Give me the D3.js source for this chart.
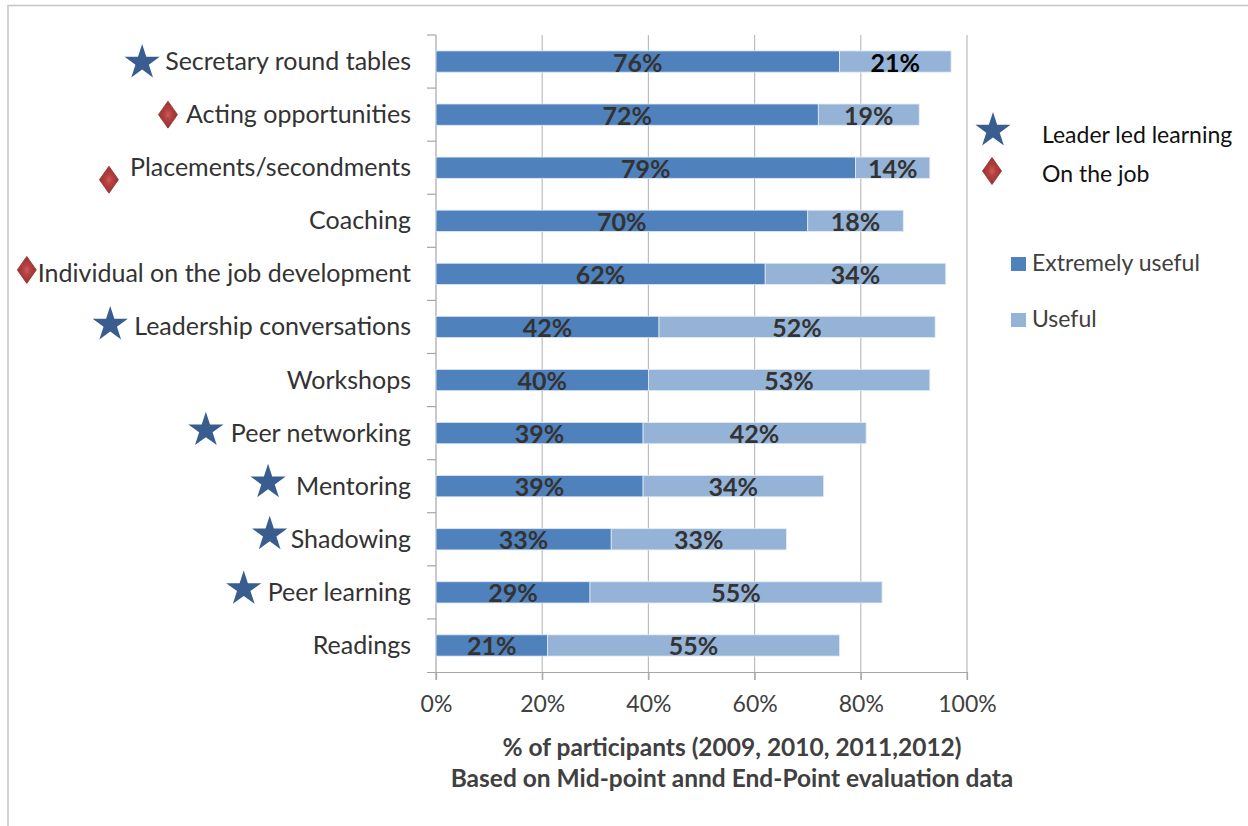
<!DOCTYPE html>
<html>
<head>
<meta charset="utf-8">
<script src="https://cdn.jsdelivr.net/npm/d3@7"></script>
<style>
  html, body { margin: 0; padding: 0; background: #fff; }
  svg { display: block; }
  text { font-family: Lato, "Open Sans", sans-serif; }
</style>
</head>
<body>
<svg id="chart" width="1248" height="826"></svg>
<script>
// ---- data ----
const categories = [
  "Secretary round tables",
  "Acting opportunities",
  "Placements/secondments",
  "Coaching",
  "Individual on the job development",
  "Leadership conversations",
  "Workshops",
  "Peer networking",
  "Mentoring",
  "Shadowing",
  "Peer learning",
  "Readings"
];
const extremelyUseful = [76, 72, 79, 70, 62, 42, 40, 39, 39, 33, 29, 21];
const useful          = [21, 19, 14, 18, 34, 52, 53, 42, 34, 33, 55, 55];
// learning type per category: star = leader led learning, diamond = on the job
const learningType = ["star", "diamond", "diamond", null, "diamond", "star", null, "star", "star", "star", "star", null];
const seriesNames = ["Extremely useful", "Useful"];
const typeNames = ["Leader led learning", "On the job"];
const xTicks = [0, 20, 40, 60, 80, 100];
const axisTitle = ["% of participants (2009, 2010, 2011,2012)", "Based on Mid-point annd End-Point evaluation data"];

// ---- layout ----
const plot = { left: 436, right: 967, top: 35, bottom: 672 };
const colors = { ext: "#4F81BD", use: "#95B3D7", star: "#3A5D90", grid: "#BDBDBD", axis: "#A6A6A6" };
// marker placement: gap from the label start and small vertical nudge
const markerGap = [23, 18, 21, 0, 11, 24, 0, 25, 28, 21, 24, 0];
const markerDy  = [1, 0, 12, 0, -4, -2.5, 0, -3, -4, -5, -3.5, 0];

const svg = d3.select("#chart");

// outer frame
svg.append("rect")
  .attr("x", 8).attr("y", 5.5).attr("width", 1400).attr("height", 1000)
  .attr("fill", "none").attr("stroke", "#C8C8C8").attr("stroke-width", 1.6);

const x = d3.scaleLinear().domain([0, 100]).range([plot.left, plot.right]);
const y = d3.scaleBand().domain(categories).range([plot.top, plot.bottom])
  .paddingInner(0.6).paddingOuter(0.3);
const step = y.step();

// vertical gridlines
svg.append("g").selectAll("line").data(xTicks.filter(d => d > 0)).join("line")
  .attr("x1", d => x(d)).attr("x2", d => x(d))
  .attr("y1", plot.top).attr("y2", plot.bottom + 8)
  .attr("stroke", colors.grid).attr("stroke-width", 1.2);

// value axis
const xAxis = d3.axisBottom(x).tickValues(xTicks).tickFormat(d => d + "%").tickSize(8).tickPadding(16);
const gx = svg.append("g").attr("transform", `translate(0,${plot.bottom})`).call(xAxis);
gx.select(".domain").attr("stroke", colors.axis).attr("stroke-width", 1.2)
  .attr("d", `M${plot.left - 9},0.5H${plot.right}`);
gx.selectAll(".tick line").attr("stroke", colors.axis).attr("stroke-width", 1.2);
gx.selectAll(".tick text").attr("fill", "#404040").style("font-size", "23px")
  .style("font-family", "Lato, sans-serif");

// category axis line and ticks at slot boundaries
svg.append("line")
  .attr("x1", plot.left).attr("x2", plot.left)
  .attr("y1", plot.top).attr("y2", plot.bottom + 8)
  .attr("stroke", colors.axis).attr("stroke-width", 1.2);
svg.append("g").selectAll("line").data(d3.range(categories.length)).join("line")
  .attr("x1", plot.left - 9).attr("x2", plot.left)
  .attr("y1", i => plot.top + i * step).attr("y2", i => plot.top + i * step)
  .attr("stroke", colors.axis).attr("stroke-width", 1.2);

// stacked bars
const rows = categories.map((c, i) => ({ c, i, a: extremelyUseful[i], b: useful[i] }));
const bars = svg.append("g");
bars.selectAll("rect.ext").data(rows).join("rect").attr("class", "ext")
  .attr("x", x(0)).attr("y", d => y(d.c))
  .attr("width", d => x(d.a) - x(0)).attr("height", y.bandwidth())
  .attr("fill", colors.ext).attr("stroke", "#DCE6F2").attr("stroke-width", 0.8);
bars.selectAll("rect.use").data(rows).join("rect").attr("class", "use")
  .attr("x", d => x(d.a)).attr("y", d => y(d.c))
  .attr("width", d => x(d.a + d.b) - x(d.a)).attr("height", y.bandwidth())
  .attr("fill", colors.use).attr("stroke", "#E4ECF5").attr("stroke-width", 0.8);

// value labels centred in each segment
const labels = svg.append("g").style("font-weight", "bold").style("font-size", "25px")
  .attr("text-anchor", "middle");
labels.selectAll("text.ext").data(rows).join("text").attr("class", "ext")
  .attr("x", d => (x(0) + x(d.a)) / 2)
  .attr("y", d => y(d.c) + y.bandwidth() / 2 + 10)
  .attr("fill", "#333").text(d => d.a + "%");
labels.selectAll("text.use").data(rows).join("text").attr("class", "use")
  .attr("x", d => (x(d.a) + x(d.a + d.b)) / 2)
  .attr("y", d => y(d.c) + y.bandwidth() / 2 + 10)
  .attr("fill", d => d.i === 0 ? "#000" : "#333").text(d => d.b + "%");

// category labels
const catLabels = svg.append("g").selectAll("text").data(rows).join("text")
  .attr("x", 411).attr("y", d => y(d.c) + y.bandwidth() / 2 + 8.5)
  .attr("text-anchor", "end").attr("fill", "#333").style("font-size", "25px")
  .text(d => d.c);

// marker shapes
const starR = 18.5;
const starPath = d3.symbol().type(d3.symbolStar).size(starR * starR / 0.8908130915292852)();
const diamondPath = "M0,-13.5L9.5,0L0,13.5L-9.5,0Z";
const defs = svg.append("defs");
const grad = defs.append("radialGradient").attr("id", "diamondFill");
grad.append("stop").attr("offset", "0%").attr("stop-color", "#D65A5A");
grad.append("stop").attr("offset", "35%").attr("stop-color", "#B54242");
grad.append("stop").attr("offset", "100%").attr("stop-color", "#9A3030");

function drawMarker(g, type, cx, cy) {
  if (type === "star") {
    g.append("path").attr("d", starPath).attr("transform", `translate(${cx},${cy})`)
      .attr("fill", colors.star);
  } else if (type === "diamond") {
    g.append("path").attr("d", diamondPath).attr("transform", `translate(${cx},${cy})`)
      .attr("fill", "url(#diamondFill)").attr("stroke", "#923030").attr("stroke-width", 0.8);
  }
}

const markers = svg.append("g");
catLabels.each(function (d) {
  const type = learningType[d.i];
  if (!type) return;
  const left = 411 - this.getComputedTextLength();
  drawMarker(markers, type, left - markerGap[d.i], y(d.c) + y.bandwidth() / 2 + markerDy[d.i]);
});

// learning type legend
const typeLegend = svg.append("g");
[["star", 993, 130.5], ["diamond", 992, 171]].forEach(([t, cx, cy]) => drawMarker(typeLegend, t, cx, cy));
typeLegend.selectAll("text").data(typeNames).join("text")
  .attr("x", 1042).attr("y", (d, i) => 143 + i * 39)
  .attr("fill", "#111").style("font-size", "23px").text(d => d);

// series legend
const seriesLegend = svg.append("g");
seriesLegend.selectAll("rect").data(seriesNames).join("rect")
  .attr("x", 1011).attr("y", (d, i) => 257 + i * 56).attr("width", 15).attr("height", 14)
  .attr("fill", (d, i) => i === 0 ? colors.ext : colors.use);
seriesLegend.selectAll("text").data(seriesNames).join("text")
  .attr("x", 1032).attr("y", (d, i) => 271 + i * 56)
  .attr("fill", "#404040").style("font-size", "23px").text(d => d);

// axis title
svg.append("g").selectAll("text").data(axisTitle).join("text")
  .attr("x", 732).attr("y", (d, i) => 756 + i * 31)
  .attr("text-anchor", "middle").attr("fill", "#404040")
  .style("font-weight", "bold").style("font-size", "24.5px").text(d => d);
</script>
</body>
</html>
